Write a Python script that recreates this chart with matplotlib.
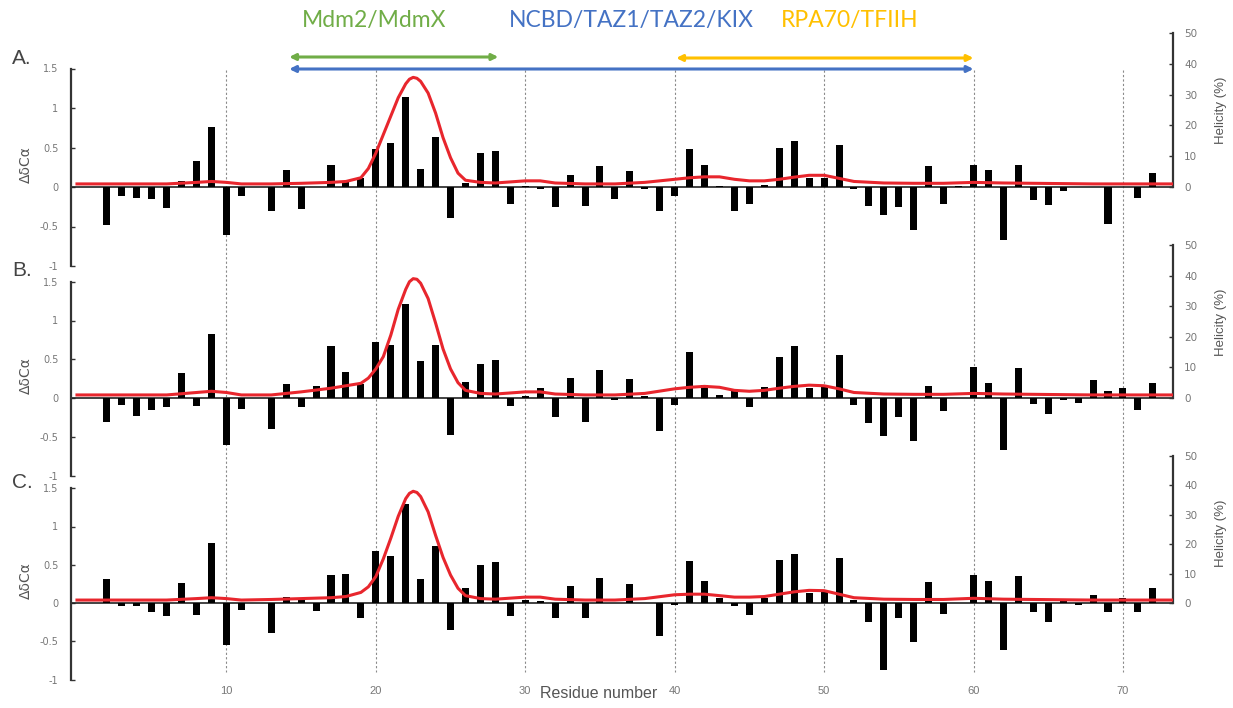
import matplotlib
matplotlib.use("Agg")
import matplotlib.pyplot as plt
import numpy as np

# per-residue secondary chemical shifts (residues 2-72)
residues = np.arange(2, 73)

dcs_a = [-0.48, -0.12, -0.14, -0.15, -0.27, 0.08, 0.33, 0.76, -0.61, -0.12,
         0.0, -0.31, 0.21, -0.28, 0.0, 0.28, 0.08, 0.11, 0.48, 0.56,
         1.14, 0.23, 0.63, -0.39, 0.05, 0.43, 0.46, -0.22, 0.01, -0.02,
         -0.25, 0.15, -0.24, 0.27, -0.15, 0.20, -0.02, -0.31, -0.11, 0.48,
         0.28, 0.01, -0.30, -0.22, 0.02, 0.49, 0.58, 0.12, 0.12, 0.53,
         -0.02, -0.24, -0.35, -0.25, -0.55, 0.27, -0.21, 0.01, 0.28, 0.21,
         -0.67, 0.28, -0.17, -0.23, -0.05, 0.0, 0.0, -0.47, 0.0, -0.14,
         0.18]

dcs_b = [-0.31, -0.09, -0.23, -0.15, -0.12, 0.32, -0.10, 0.83, -0.60, -0.14,
         0.0, -0.40, 0.18, -0.11, 0.15, 0.67, 0.33, 0.18, 0.72, 0.69,
         1.21, 0.48, 0.68, -0.48, 0.21, 0.44, 0.49, -0.10, 0.02, 0.13,
         -0.24, 0.26, -0.31, 0.36, -0.02, 0.24, 0.02, -0.43, -0.09, 0.59,
         0.17, 0.04, 0.09, -0.11, 0.14, 0.53, 0.67, 0.13, 0.14, 0.55,
         -0.09, -0.32, -0.49, -0.24, -0.55, 0.16, -0.17, 0.0, 0.40, 0.20,
         -0.67, 0.39, -0.08, -0.21, -0.02, -0.07, 0.23, 0.09, 0.13, -0.15,
         0.19]

dcs_c = [0.32, -0.04, -0.04, -0.12, -0.17, 0.26, -0.16, 0.78, -0.55, -0.09,
         0.0, -0.39, 0.08, 0.04, -0.10, 0.36, 0.38, -0.19, 0.68, 0.61,
         1.29, 0.31, 0.75, -0.35, 0.19, 0.50, 0.53, -0.17, 0.04, 0.03,
         -0.20, 0.22, -0.20, 0.33, 0.0, 0.25, 0.0, -0.43, -0.02, 0.55,
         0.29, 0.06, -0.04, -0.16, 0.07, 0.56, 0.64, 0.13, 0.17, 0.59,
         0.04, -0.25, -0.87, -0.19, -0.51, 0.27, -0.14, 0.0, 0.36, 0.29,
         -0.62, 0.35, -0.12, -0.25, 0.03, -0.02, 0.10, -0.12, 0.06, -0.12,
         0.19]

# helicity profiles (%)
hel_x = [0, 3, 6, 8, 9, 10, 11, 13, 15, 17, 18, 19, 19.5, 20, 20.5, 21, 21.5,
         22, 22.25, 22.5, 22.75, 23, 23.5, 24, 24.5, 25, 25.5, 26, 27, 28,
         30, 31, 32, 34, 36, 38, 40, 41, 42, 43, 44, 45, 46, 47, 48, 49, 50,
         51, 52, 54, 56, 58, 60, 62, 64, 68, 73.3]

hel_a = [1, 1, 1, 1.5, 1.8, 1.5, 1, 1, 1.2, 1.5, 1.8, 3, 6, 11, 17, 23, 29,
         33.5, 35, 35.6, 35.3, 34.3, 30.5, 24, 16, 9.5, 4.5, 2.2, 1.5, 1.3,
         2, 2, 1.3, 1, 1, 1.5, 2.5, 3, 3.3, 3.3, 2.5, 2, 2, 2.5, 3.2, 3.8,
         3.8, 2.8, 1.8, 1.3, 1.2, 1.2, 1.5, 1.3, 1.2, 1, 1]

hel_b = [1, 1, 1, 1.8, 2.2, 1.8, 1, 1, 2, 3.2, 4, 4.8, 6.5, 9.5, 13.5, 20.5,
         29, 35.5, 38, 39, 38.8, 37.5, 32.5, 24.5, 16, 9.5, 5, 2.5, 1.5, 1.3,
         2, 2, 1.3, 1, 1, 1.5, 3, 3.5, 3.8, 3.5, 2.5, 2.2, 2.5, 3.2, 3.8,
         4.2, 4, 3, 1.8, 1.3, 1.2, 1.2, 1.5, 1.3, 1.2, 1, 1]

hel_c = [1, 1, 1, 1.5, 1.8, 1.5, 1, 1.2, 1.5, 1.8, 2.2, 3.6, 5.5, 9, 15, 22,
         29.5, 35.5, 37.3, 38, 37.6, 36.2, 31, 23, 15.5, 9.5, 5, 2.5, 1.5,
         1.3, 2, 2, 1.3, 1, 1, 1.5, 2.8, 3, 3, 2.5, 2, 2, 2.2, 3, 3.8, 4.3,
         4.2, 3, 1.8, 1.3, 1.2, 1.2, 1.6, 1.3, 1.2, 1, 1]

panel_labels = ["A.", "B.", "C."]
x_ticks = [10, 20, 30, 40, 50, 60, 70]

# binding regions: (label, colour, start, end)
regions = [("Mdm2/MdmX", "#70AD47", 14.2, 28.2),
           ("NCBD/TAZ1/TAZ2/KIX", "#4472C4", 14.2, 60.0),
           ("RPA70/TFIIH", "#FFC000", 40.1, 60.0)]
label_centres = [19.9, 37.1, 51.7]

W, H = 1233, 708
XLIM = (-0.4, 73.35)
AX_L, AX_R = 71, 1173


def box(x0, y0, x1, y1):
    return [x0 / W, 1 - y1 / H, (x1 - x0) / W, (y1 - y0) / H]


fig = plt.figure(figsize=(W / 100, H / 100), dpi=100)
fig.patch.set_facecolor("white")

# background frame in (residue, pixel-from-top) coords
frame = fig.add_axes(box(AX_L, 0, AX_R, H))
frame.set_xlim(*XLIM)
frame.set_ylim(H, 0)
frame.axis("off")
frame.set_zorder(0)

for r in x_ticks:
    frame.plot([r, r], [70, 672], ls=(0, (2, 2)), color="#8a8a8a", lw=0.8)
    frame.text(r, 691, str(r), ha="center", va="center", fontsize=8,
               color="#777777", family="Liberation Sans")
frame.text(34.9, 693, "Residue number", ha="center", va="center",
           fontsize=11.5, color="#555555", family="Liberation Sans")

# header labels and arrows
for (name, col, r0, r1), xc in zip(regions, label_centres):
    frame.text(xc, 20, name, color=col, ha="center", va="center",
               fontsize=16.5, family="Lato")
arrow_y = [57, 69, 58]
for (name, col, r0, r1), yy in zip(regions, arrow_y):
    frame.annotate("", xy=(r1, yy), xytext=(r0, yy),
                   arrowprops=dict(arrowstyle="<|-|>", color=col, lw=2.2,
                                   mutation_scale=9, shrinkA=0, shrinkB=0))

# panel geometry: top of right axis, left zero line, px per unit dd
geom = [(33, 187, 79.0), (245, 398, 77.5), (456, 603, 76.5)]
dcs_sets = [dcs_a, dcs_b, dcs_c]
hel_sets = [hel_a, hel_b, hel_c]

for i, (top, zero, unit) in enumerate(geom):
    bottom = zero + unit
    ax = fig.add_axes(box(AX_L, top, AX_R, bottom))
    ax.set_zorder(2)
    ax.patch.set_alpha(0)
    ax.set_xlim(*XLIM)
    ax.set_ylim(-1, (zero - top) / unit)
    ax.bar(residues, dcs_sets[i], width=0.47, color="black", zorder=3)
    ax.axhline(0, color="#222222", lw=1.2, zorder=2)

    for s in ("top", "bottom", "right"):
        ax.spines[s].set_visible(False)
    ax.spines["left"].set_bounds(-1, 1.5)
    ax.spines["left"].set_color("#333333")
    ax.spines["left"].set_linewidth(1.6)
    ax.set_xticks([])
    ax.set_yticks([-1, -0.5, 0, 0.5, 1, 1.5])
    ax.set_yticklabels(["-1", "-0.5", "0", "0.5", "1", "1.5"])
    ax.tick_params(axis="y", direction="in", length=3, width=1,
                   color="#333333", labelsize=7, labelcolor="#777777", pad=9)

    ax2 = ax.twinx()
    ax2.set_ylim(-50 * (bottom - zero) / (zero - top), 50)
    ax2.plot(hel_x, hel_sets[i], color="#E8262D", lw=2.2, zorder=4)
    for s in ("top", "bottom", "left"):
        ax2.spines[s].set_visible(False)
    ax2.spines["right"].set_bounds(0, 50)
    ax2.spines["right"].set_color("#333333")
    ax2.spines["right"].set_linewidth(1.6)
    ax2.set_yticks([0, 10, 20, 30, 40, 50])
    ax2.tick_params(axis="y", direction="in", length=3, width=1,
                    color="#333333", labelsize=7.5, labelcolor="#777777",
                    pad=8)

    fig.text(12 / W, 1 - (top + 26) / H, panel_labels[i], fontsize=15,
             color="#444444", ha="left", va="center",
             family="Liberation Sans")
    fig.text(26 / W, 1 - (zero - 22) / H, "ΔδCα", rotation=90, fontsize=10,
             color="#555555", ha="center", va="center")
    fig.text(1221 / W, 1 - (top + 77) / H, "Helicity (%)", rotation=90,
             fontsize=9.5, color="#555555", ha="center", va="center",
             family="Liberation Sans")

fig.savefig("out.png", dpi=100)
